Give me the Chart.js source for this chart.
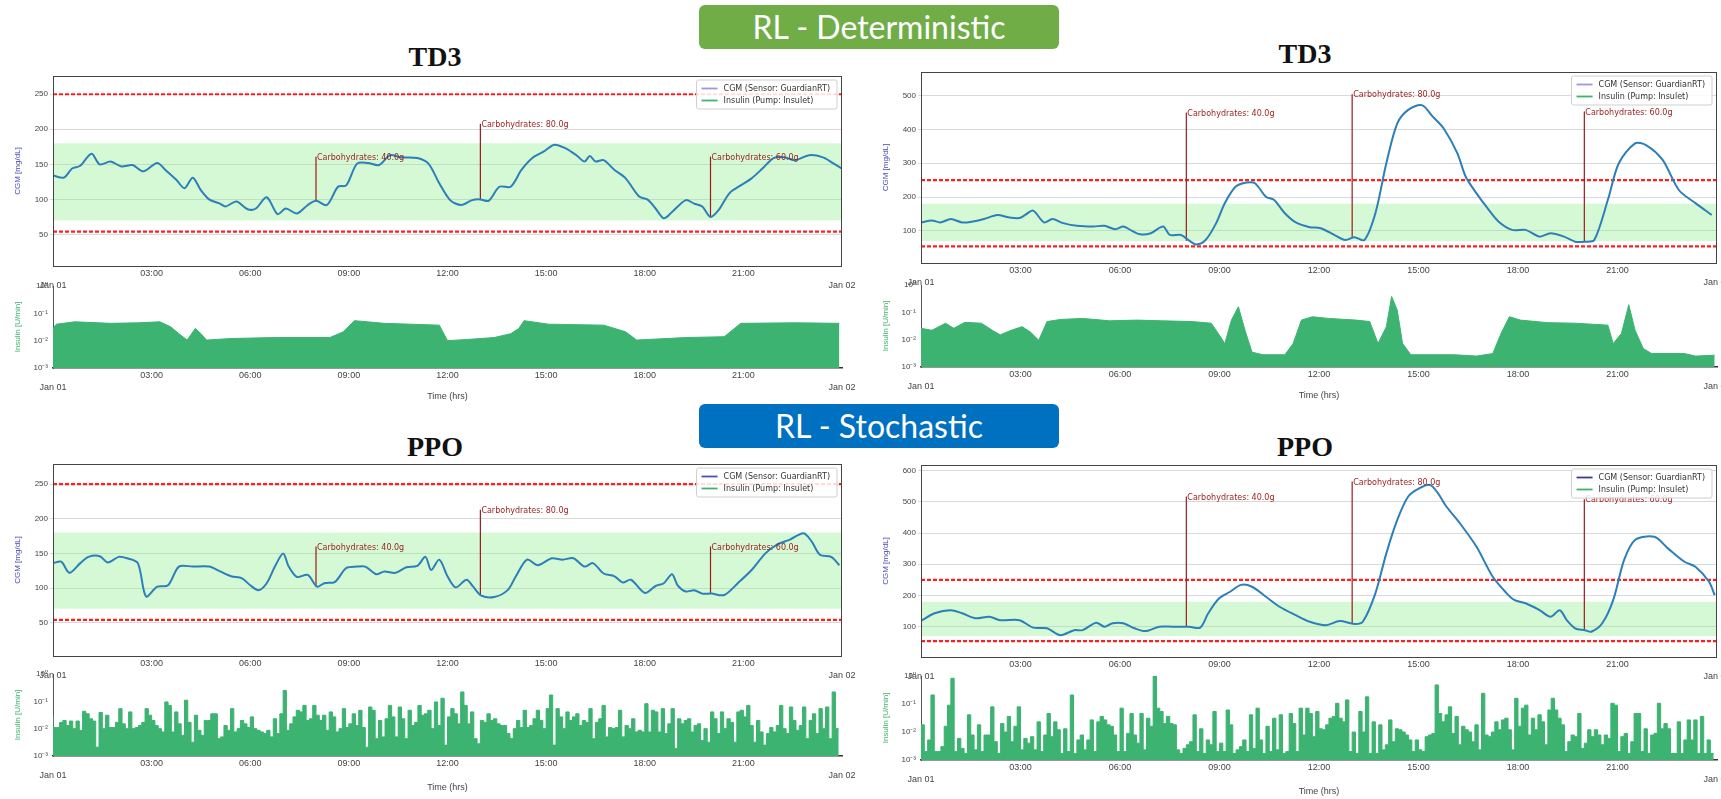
<!DOCTYPE html>
<html>
<head>
<meta charset="utf-8">
<script src="https://cdn.jsdelivr.net/npm/chart.js@4.4.1/dist/chart.umd.min.js"></script>
<style>
  body { margin: 0; background: #fff; }
  #page { position: relative; width: 1721px; height: 799px; overflow: hidden; background: #fff; }
  canvas { position: absolute; }
  .banner { position: absolute; left: 699px; width: 360px; height: 44px; border-radius: 6px; color: #fff;
            font: 32px Lato, sans-serif; text-align: center; line-height: 44px; }
  .title { position: absolute; width: 120px; text-align: center; font: bold 28px "Liberation Serif", serif;
           line-height: 32px; color: #111; }
</style>
</head>
<body>
<div id="page">
  <div class="banner" style="top:5px; background:#70ad47;">RL - Deterministic</div>
  <div class="banner" style="top:404px; background:#0070c0;">RL - Stochastic</div>
  <div class="title" style="left:375px; top:41px;">TD3</div>
  <div class="title" style="left:1245px; top:38px;">TD3</div>
  <div class="title" style="left:375px; top:431px;">PPO</div>
  <div class="title" style="left:1245px; top:431px;">PPO</div>
</div>
<script>
// shared axis / annotation data
const xTickHours = [0, 3, 6, 9, 12, 15, 18, 21, 24];
const xTickLabels = [['', 'Jan 01'], '03:00', '06:00', '09:00', '12:00', '15:00', '18:00', '21:00', ['', 'Jan 02']];
const insTickValues = [0.001, 0.01, 0.1, 1];
const insTickLabels = ['10⁻³', '10⁻²', '10⁻¹', '10⁰'];
const legendLabels = ['CGM (Sensor: GuardianRT)', 'Insulin (Pump: Insulet)'];
const hyperLimit = 250;
const hypoLimit = 54;
const targetRange = [70, 180];
const carbHours = [8, 13, 20];
const carbGrams = [40, 80, 60];

// TD3 - left (normal patient)
const cgmTlHours = [0,0.33,0.58,0.83,1.17,1.42,1.75,2.08,2.42,2.75,3.17,3.42,3.75,4.0,4.25,4.5,4.75,5.08,5.25,5.58,5.92,6.17,6.5,6.83,7.08,7.42,7.75,8.0,8.33,8.67,8.92,9.25,9.58,9.92,10.25,10.58,11.08,11.42,11.75,12.08,12.42,12.75,13.0,13.25,13.58,13.92,14.25,14.58,14.92,15.25,15.58,15.92,16.17,16.33,16.5,16.75,17.08,17.42,17.83,18.08,18.33,18.58,18.83,19.25,19.5,19.75,20.0,20.25,20.58,20.92,21.25,21.58,21.92,22.25,22.58,23.0,23.42,23.75,24];
const cgmTlValues = [134,131,144,148,165,150,154,147,149,140,152,142,128,116,131,113,100,94,90,97,86,87,103,79,87,80,92,98,92,118,120,151,152,149,163,160,159,151,123,99,92,99,100,98,118,118,142,159,168,178,173,163,154,162,154,156,142,130,104,100,87,73,82,99,94,90,75,85,109,120,130,144,159,160,156,163,160,151,144];
const carbTlBase = [98, 100, 75];
const carbTlTop = [161, 208, 161];
const insTlHours = [0,0.1,0.67,1.75,2.6,3.25,3.58,3.83,4.08,4.33,4.5,4.67,5.42,6.75,8.42,8.83,9.17,10.08,11.75,12.0,12.58,13.42,13.92,14.17,14.33,15.08,16.75,17.42,17.75,19.25,20.42,20.92,22.58,23.92];
const insTlValues = [0.028,0.040,0.049,0.043,0.045,0.049,0.032,0.018,0.0105,0.028,0.018,0.0105,0.012,0.013,0.013,0.021,0.054,0.043,0.037,0.010,0.011,0.013,0.018,0.028,0.054,0.040,0.037,0.021,0.0105,0.013,0.014,0.043,0.045,0.043];

// TD3 - right
const cgmTrHours = [0,0.33,0.58,0.9,1.24,1.57,1.9,2.3,2.64,2.97,3.14,3.38,3.71,3.96,4.29,4.7,5.2,5.53,5.86,6.1,6.35,6.6,6.93,7.3,7.5,7.84,8.09,8.3,8.58,8.9,9.16,9.49,9.82,10.07,10.4,10.64,10.97,11.3,11.72,12.05,12.46,12.79,13.07,13.37,13.7,14.03,14.36,14.69,15.1,15.43,15.76,16.17,16.42,16.75,17.08,17.41,17.82,18.23,18.65,18.98,19.39,19.72,20.02,20.3,20.71,21.04,21.53,21.86,22.36,22.85,23.35,23.84];
const cgmTrValues = [125,131,125,135,125,128,135,147,140,138,147,160,125,135,123,115,113,115,105,113,101,90,93,113,88,88,71,60,73,123,182,231,243,241,201,192,152,125,111,108,88,73,81,73,152,300,418,458,472,438,403,330,261,211,167,128,103,103,83,93,83,68,68,73,192,300,359,354,310,221,182,147];
const carbTrBase = [71, 81, 68];
const carbTrTop = [450, 504, 453];
const insTrHours = [0,0.33,0.74,0.99,1.32,1.82,2.15,2.39,2.72,3.05,3.3,3.55,3.8,4.21,4.87,5.69,6.52,7.26,8.17,8.75,8.96,9.16,9.36,9.57,9.77,9.98,10.31,10.97,11.22,11.47,11.8,12.29,13.12,13.53,13.78,14.03,14.19,14.36,14.52,14.77,16.09,16.75,17.24,17.49,17.74,18.07,18.89,19.72,20.71,20.87,21.12,21.34,21.53,21.78,22.03,23.02,23.35,23.93];
const insTrValues = [0.026,0.022,0.040,0.026,0.043,0.040,0.022,0.015,0.022,0.030,0.019,0.0095,0.046,0.055,0.060,0.049,0.052,0.049,0.046,0.040,0.017,0.0072,0.052,0.16,0.022,0.0035,0.0028,0.0028,0.0072,0.052,0.069,0.060,0.052,0.046,0.0072,0.030,0.38,0.12,0.0072,0.0028,0.0028,0.0025,0.0031,0.017,0.069,0.052,0.042,0.040,0.034,0.0072,0.017,0.19,0.022,0.0047,0.0031,0.0031,0.0025,0.0027];

// PPO - left
const cgmBlHours = [0,0.25,0.5,0.83,1.08,1.42,1.67,2.0,2.25,2.58,2.83,3.17,3.5,3.83,4.25,4.75,5.08,5.42,5.75,6.0,6.25,6.5,6.75,7.0,7.17,7.42,7.75,8.03,8.25,8.58,8.92,9.25,9.5,9.83,10.08,10.42,10.75,11.08,11.33,11.5,11.75,12.0,12.25,12.58,12.78,13.03,13.42,13.83,14.08,14.42,14.75,15.17,15.5,15.83,16.17,16.42,16.75,17.08,17.33,17.58,18.0,18.33,18.58,18.83,19.0,19.25,19.5,19.75,20.03,20.42,20.83,21.25,21.67,22.0,22.42,22.83,23.08,23.33,23.67,23.92];
const cgmBlValues = [136,138,122,136,145,146,137,145,143,136,88,102,104,131,131,131,124,117,114,104,97,107,131,150,131,116,119,102,107,109,129,131,131,120,124,122,130,132,145,126,141,117,101,112,102,89,87,97,117,141,133,143,141,143,131,136,121,117,108,112,93,103,107,120,104,95,97,92,92,90,107,126,150,162,170,179,167,148,145,133];
const carbBlBase = [102, 89, 92];
const carbBlTop = [160, 213, 160];

// PPO - right
const cgmBrHours = [0,0.41,0.9,1.24,1.65,2.06,2.39,2.97,3.38,3.8,4.2,4.62,4.87,5.28,5.53,5.78,6.1,6.44,6.77,7.18,7.59,8.09,8.42,8.66,8.99,9.32,9.65,9.98,10.4,10.81,11.3,11.72,12.21,12.62,13.07,13.32,13.7,14.03,14.36,14.69,15.02,15.35,15.59,15.84,16.25,16.75,17.24,17.66,17.9,18.23,18.65,18.98,19.26,19.47,19.72,20.02,20.21,20.54,20.87,21.2,21.53,22.11,22.52,23.02,23.35,23.76,23.93];
const cgmBrValues = [119,143,153,143,127,132,121,121,97,95,73,89,89,113,100,111,111,95,86,100,100,100,97,143,191,212,234,228,196,164,137,116,105,118,109,116,207,335,442,517,543,554,527,485,431,356,260,207,185,175,153,132,153,121,95,89,84,111,185,314,378,388,351,308,292,244,201];
const carbBrBase = [100, 109, 89];
const carbBrTop = [517, 565, 508];

// PPO insulin: one bar every 6 minutes
const insPpoStep = 0.1;
const insBlValues = [
  0.031,0.011,0.011,0.017,0.020,0.013,0.019,0.010,0.019,0.0087,
  0.043,0.035,0.023,0.019,0.0021,0.039,0.010,0.031,0.011,0.011,
  0.017,0.054,0.015,0.010,0.041,0.010,0.011,0.013,0.017,0.054,
  0.031,0.020,0.013,0.010,0.0076,0.095,0.071,0.0076,0.041,0.015,
  0.0057,0.11,0.017,0.0032,0.031,0.0087,0.0057,0.020,0.020,0.035,
  0.035,0.0043,0.005,0.013,0.0087,0.054,0.0076,0.010,0.020,0.015,
  0.011,0.027,0.010,0.0087,0.0076,0.0066,0.0087,0.005,0.023,0.0066,
  0.035,0.25,0.0087,0.015,0.027,0.047,0.041,0.071,0.020,0.023,
  0.071,0.031,
  0.020,0.031,0.0087,0.041,0.027,0.0076,0.010,0.054,0.011,0.015,
  0.035,0.013,0.047,0.011,0.0021,
  0.062,0.047,0.0043,0.020,0.005,0.023,0.071,0.027,0.005,0.062,
  0.023,0.0043,0.047,0.013,0.017,0.071,0.031,0.035,0.047,0.010,
  0.095,0.013,0.13,
  0.0025,0.027,0.054,0.035,0.015,0.22,
  0.071,0.015,0.041,0.0043,0.0028,0.020,0.017,0.035,0.020,0.023,
  0.015,0.013,0.013,0.0066,0.0043,0.010,0.020,0.011,0.047,0.011,
  0.013,0.023,0.047,0.020,0.010,0.054,0.17,
  0.0025,0.054,0.027,0.010,0.041,0.020,0.027,0.035,0.013,0.020,
  0.017,0.054,0.0043,0.017,0.023,0.071,0.005,0.011,0.010,0.011,
  0.047,0.005,0.013,0.010,0.023,0.0076,0.0087,0.0076,0.082,0.0076,
  0.047,0.041,0.0076,0.054,0.0066,0.015,0.054,0.0019,0.023,0.015,
  0.020,0.023,0.0076,0.013,0.015,0.0037,0.010,0.0032,0.041,0.023,
  0.0066,0.041,0.010,0.023,0.017,0.0032,0.041,0.047,0.027,0.071,
  0.013,0.0032,0.020,0.0076,0.0025,0.0066,0.011,0.0076,0.013,0.071,
  0.010,0.0066,0.062,0.020,0.0087,0.013,0.062,0.0043,0.020,0.035,
  0.0066,0.054,0.010,0.062,0.0043,0.22,0.010
];
const insBrValues = [
  0.0017,0.018,0.002,0.0052,0.21,0.002,0.002,0.003,0.016,0.091,
  0.83,0.002,0.0059,0.0026,0.0017,0.041,0.0078,0.0023,0.018,0.002,
  0.0078,0.0078,0.079,0.0045,0.0017,0.020,0.010,0.036,0.0045,0.016,
  0.079,0.0023,0.0059,0.004,0.0068,0.0023,0.023,0.002,0.0078,0.046,
  0.0068,0.023,0.012,0.0017,0.013,0.002,0.21,0.0017,0.0052,0.0078,
  0.0023,0.0052,0.027,0.002,0.023,0.036,0.027,0.018,0.016,0.0078,
  0.002,0.071,0.002,0.0089,0.046,0.0078,0.004,0.046,0.0023,0.031,
  0.016,1.0,0.071,0.054,0.020,0.036,0.020,0.018,0.0023,0.0017,
  0.0026,0.0035,0.0045,0.041,
  0.002,0.013,0.0017,0.0052,0.0035,0.054,0.002,0.004,0.002,0.061,
  0.018,0.0017,0.0023,0.003,0.0052,0.002,0.041,0.0026,0.071,0.0052,
  0.0017,0.016,0.002,0.031,0.0023,0.041,0.0017,0.002,0.046,0.020,
  0.002,0.071,0.0078,0.071,0.046,0.0068,0.054,0.013,0.012,0.018,
  0.031,0.036,0.106,0.031,0.023,0.14,0.002,0.010,0.0017,0.054,
  0.010,0.18,0.0017,0.023,0.0017,0.018,0.0023,0.0035,0.027,0.0045,
  0.013,0.012,0.010,0.0078,0.0052,0.002,0.0052,0.0023,0.002,0.0068,
  0.0078,0.0089,0.48,0.046,0.023,
  0.041,0.079,0.0089,0.036,0.0035,0.016,0.012,0.010,0.0045,0.018,
  0.0023,0.24,0.0078,0.0068,0.010,0.023,0.012,0.027,0.031,0.012,
  0.0023,0.16,0.016,0.071,0.091,0.0078,0.031,0.012,0.041,0.023,
  0.0035,0.061,0.16,0.061,0.031,0.018,0.002,0.0045,0.0078,0.0068,
  0.046,0.0026,0.004,0.012,0.0068,0.012,0.0078,0.0035,0.0078,0.0059,
  0.106,0.091,0.002,0.0068,0.0089,0.0017,0.0045,0.046,0.046,0.002,
  0.013,0.0017,0.0078,0.0089,0.106,0.013,0.020,0.013,0.0017,0.0017,
  0.023,0.0017,0.0052,0.027,0.0052,0.027,0.0017,0.036,0.0017,0.0052,0.0017
];

const cgmBlue = '#2c7fb8';
const insGreen = '#3cb371';
const carbRed = '#9b1c1c';

// draws the box round the CGM axes
const framePlugin = {
  id: 'frame',
  afterDatasetsDraw(chart, args, opts) {
    if (!opts.show) return;
    const { ctx, chartArea: a } = chart;
    ctx.save();
    ctx.strokeStyle = '#444';
    ctx.lineWidth = 1;
    ctx.strokeRect(a.left + 0.5, a.top + 0.5, a.right - a.left - 1, a.bottom - a.top);
    ctx.restore();
  }
};

// "Carbohydrates: xx.xg" text at the top of each meal line
const carbLabelPlugin = {
  id: 'carbLabels',
  afterDatasetsDraw(chart, args, opts) {
    if (!opts.tops) return;
    const { ctx, scales: { x, y } } = chart;
    ctx.save();
    ctx.font = '8px "DejaVu Sans"';
    ctx.fillStyle = carbRed;
    ctx.textBaseline = 'top';
    carbHours.forEach((h, i) => {
      ctx.fillText('Carbohydrates: ' + carbGrams[i].toFixed(1) + 'g',
        x.getPixelForValue(h) + 1, y.getPixelForValue(opts.tops[i]) - 3);
    });
    ctx.restore();
  }
};

// matplotlib-like legend box in the upper right corner
const boxLegendPlugin = {
  id: 'boxLegend',
  afterDraw(chart, args, opts) {
    if (!opts.colors) return;
    const { ctx, chartArea: a } = chart;
    ctx.save();
    ctx.font = '8px "DejaVu Sans"';
    const w = Math.max(...legendLabels.map(t => ctx.measureText(t).width)) + 34;
    const h = legendLabels.length * 12 + 5;
    const left = a.right - 5 - w, top = a.top + 4;
    ctx.fillStyle = 'rgba(255,255,255,0.85)';
    ctx.strokeStyle = '#cfcfcf';
    ctx.lineWidth = 1;
    ctx.beginPath();
    ctx.roundRect(left, top, w, h, 2);
    ctx.fill();
    ctx.stroke();
    legendLabels.forEach((t, i) => {
      const cy = top + 8.5 + i * 12;
      ctx.strokeStyle = opts.colors[i];
      ctx.lineWidth = 1.8;
      ctx.beginPath();
      ctx.moveTo(left + 5, cy);
      ctx.lineTo(left + 21, cy);
      ctx.stroke();
      ctx.fillStyle = '#333';
      ctx.textBaseline = 'middle';
      ctx.fillText(t, left + 27, cy);
    });
    ctx.restore();
  }
};

function addCanvas(box) {
  const c = document.createElement('canvas');
  c.width = box.r - box.l + box.yW + box.padR;
  c.height = box.b - box.t + box.padT + box.xH;
  c.style.left = (box.l - box.yW) + 'px';
  c.style.top = (box.t - box.padT) + 'px';
  document.getElementById('page').appendChild(c);
  return c;
}

function xScale(box, withTitle) {
  return {
    type: 'linear', min: 0, max: 24,
    grid: { display: false, drawTicks: true, tickLength: 0 },
    border: { display: withTitle, color: '#333', width: 1.5 },
    ticks: { padding: 1, maxRotation: 0, autoSkip: false, color: '#444',
             font: { size: 9, lineHeight: 1.35 }, callback: (v, i) => xTickLabels[i] },
    title: { display: withTitle, text: 'Time (hrs)', color: '#444', font: { size: 9 }, padding: { top: 2, bottom: 2 } },
    afterBuildTicks: s => { s.ticks = xTickHours.map(v => ({ value: v })); },
    afterFit: s => { s.height = box.xH; s.paddingLeft = 0; s.paddingRight = 0; }
  };
}

function makeCgm(box, p) {
  const line = (y, extra) => Object.assign({ data: [{ x: 0, y: y }, { x: 24, y: y }] }, extra);
  new Chart(addCanvas(box), {
    type: 'line',
    data: {
      datasets: [
        { data: p.hours.map((h, i) => ({ x: h, y: p.values[i] })), borderColor: cgmBlue, borderWidth: 2, tension: 0.3, order: 0 },
        ...carbHours.map((h, i) => ({ data: [{ x: h, y: p.base[i] }, { x: h, y: p.tops[i] }], borderColor: carbRed, borderWidth: 1.2, order: 1 })),
        line(hyperLimit, { borderColor: '#ff1f1f', borderWidth: 2.2, borderDash: [4, 2], order: 2 }),
        line(hypoLimit, { borderColor: '#ff1f1f', borderWidth: 2.2, borderDash: [4, 2], order: 2 }),
        line(targetRange[1], { borderColor: 'transparent', fill: '+1', backgroundColor: 'rgba(144,238,144,0.38)', order: 3 }),
        line(targetRange[0], { borderColor: 'transparent', order: 3 })
      ]
    },
    options: {
      responsive: false, animation: false, devicePixelRatio: 1,
      layout: { padding: { top: box.padT, right: box.padR, left: 0, bottom: 0 } },
      elements: { point: { radius: 0 } },
      plugins: {
        legend: { display: false }, tooltip: { enabled: false },
        frame: { show: true },
        carbLabels: { tops: p.tops },
        boxLegend: { colors: [p.legendColor, insGreen] }
      },
      scales: {
        x: xScale(box, false),
        y: {
          min: p.yMin, max: p.yMax,
          grid: { color: '#d9d9d9', tickLength: 3 },
          border: { display: false },
          ticks: { padding: 2, color: '#444', font: { size: 8 } },
          title: { display: true, text: 'CGM [mg/dL]', color: '#4a4ab5', font: { size: 8 }, padding: { top: 4, bottom: 2 } },
          afterBuildTicks: s => { s.ticks = p.yTicks.map(v => ({ value: v })); },
          afterFit: s => { s.width = box.yW; s.paddingTop = 0; s.paddingBottom = 0; }
        }
      }
    },
    plugins: [framePlugin, carbLabelPlugin, boxLegendPlugin]
  });
}

function makeInsulin(box, points, stepped) {
  new Chart(addCanvas(box), {
    type: 'line',
    data: {
      datasets: [{ data: points, stepped: stepped ? 'after' : false, fill: 'start',
                   backgroundColor: insGreen, borderColor: insGreen, borderWidth: 1 }]
    },
    options: {
      responsive: false, animation: false, devicePixelRatio: 1,
      layout: { padding: { top: box.padT, right: box.padR, left: 0, bottom: 0 } },
      elements: { point: { radius: 0 } },
      plugins: { legend: { display: false }, tooltip: { enabled: false } },
      scales: {
        x: xScale(box, true),
        y: {
          type: 'logarithmic', min: 0.001, max: 1,
          grid: { display: false, drawTicks: true, tickLength: 3 },
          border: { display: true, color: '#555', dash: [2, 2] },
          ticks: { padding: 2, color: '#444', font: { size: 8 }, callback: (v, i) => insTickLabels[i] },
          title: { display: true, text: 'Insulin [U/min]', color: insGreen, font: { size: 8 }, padding: { top: 4, bottom: 2 } },
          afterBuildTicks: s => { s.ticks = insTickValues.map(v => ({ value: v })); },
          afterFit: s => { s.width = box.yW; s.paddingTop = 0; s.paddingBottom = 0; }
        }
      }
    }
  });
}

const pairs = (hours, values) => hours.map((h, i) => ({ x: h, y: values[i] }));
const steps = values => values.map((v, i) => ({ x: i * insPpoStep, y: v }));

// TD3, left
makeCgm({ l: 53, t: 76, r: 842, b: 266, yW: 44, xH: 26, padT: 4, padR: 16 },
  { hours: cgmTlHours, values: cgmTlValues, base: carbTlBase, tops: carbTlTop,
    yMin: 5, yMax: 276, yTicks: [50, 100, 150, 200, 250], legendColor: '#9999dd' });
makeInsulin({ l: 53, t: 286, r: 842, b: 368, yW: 44, xH: 36, padT: 4, padR: 16 }, pairs(insTlHours, insTlValues), false);

// TD3, right
makeCgm({ l: 921, t: 72, r: 1717, b: 263, yW: 44, xH: 26, padT: 4, padR: 4 },
  { hours: cgmTrHours, values: cgmTrValues, base: carbTrBase, tops: carbTrTop,
    yMin: 5, yMax: 570, yTicks: [100, 200, 300, 400, 500], legendColor: '#9999dd' });
makeInsulin({ l: 921, t: 285, r: 1717, b: 367, yW: 44, xH: 36, padT: 4, padR: 4 }, pairs(insTrHours, insTrValues), false);

// PPO, left
makeCgm({ l: 53, t: 464, r: 842, b: 656, yW: 44, xH: 26, padT: 4, padR: 16 },
  { hours: cgmBlHours, values: cgmBlValues, base: carbBlBase, tops: carbBlTop,
    yMin: 2, yMax: 279, yTicks: [50, 100, 150, 200, 250], legendColor: '#5050a8' });
makeInsulin({ l: 53, t: 674, r: 842, b: 756, yW: 44, xH: 39, padT: 4, padR: 16 }, steps(insBlValues), true);

// PPO, right
makeCgm({ l: 921, t: 465, r: 1717, b: 657, yW: 44, xH: 26, padT: 4, padR: 4 },
  { hours: cgmBrHours, values: cgmBrValues, base: carbBrBase, tops: carbBrTop,
    yMin: 3, yMax: 618, yTicks: [100, 200, 300, 400, 500, 600], legendColor: '#3a3a9a' });
makeInsulin({ l: 921, t: 676, r: 1717, b: 760, yW: 44, xH: 39, padT: 4, padR: 4 }, steps(insBrValues), true);
</script>
</body>
</html>
